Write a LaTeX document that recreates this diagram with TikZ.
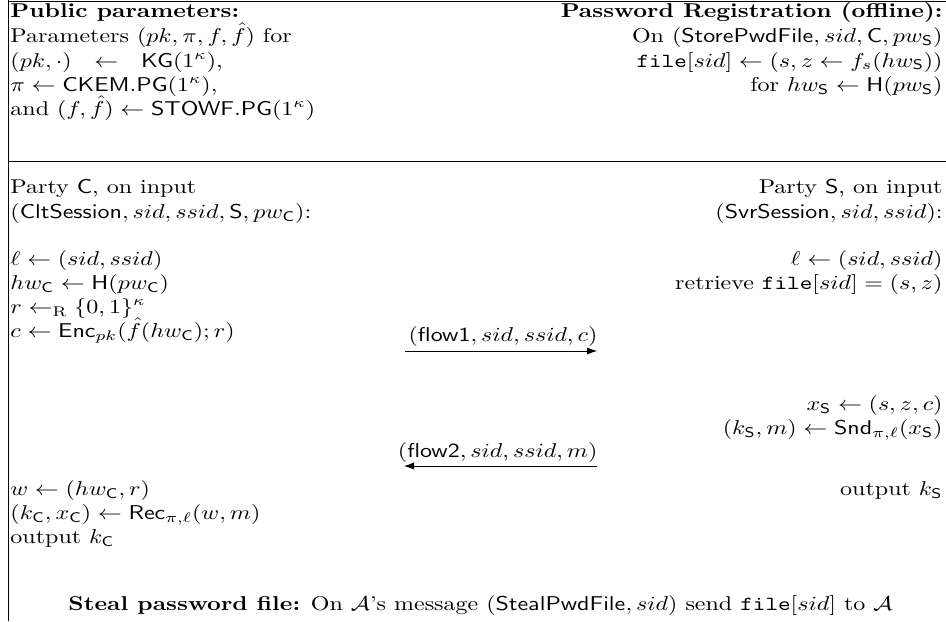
\documentclass[tikz,border=0pt]{standalone}
\usepackage{tikz}
\usetikzlibrary{arrows.meta}

\tikzset{
	txt/.style={inner sep=0pt, xscale=1.2},
	lft/.style={txt, anchor=base west},
	rgt/.style={txt, anchor=base east},
	msg/.style={-{Latex[length=5pt, width=3.6pt]}, line width=0.4pt}
}
\newcommand{\fC}{\mathsf{C}}
\newcommand{\fS}{\mathsf{S}}
\newcommand{\fhat}{\smash{\hat{f}}}

\begin{document}
\begin{tikzpicture}[x=0.5pt, y=-0.5pt]
		%%%%% START %%%%%
		\useasboundingbox (0, 0) rectangle (946, 621);
		
		\draw (8, 1) -- (946, 1);
		\draw (8, 161) -- (946, 161);
		\draw (8, 0) -- (8, 621);
		
		% public parameters
		\node[lft] (pubhead) at (10, 18) {\textbf{Public parameters:}};
		\node[lft] (pub1) at (10, 42) {Parameters $(pk,\pi,f,\fhat)$ for};
		\node[lft] (pub2) at (10, 67) {$(pk,\cdot)\ \ \leftarrow\ \ \mathsf{KG}(1^\kappa)$,};
		\node[lft] (pub3) at (10, 91) {$\pi\leftarrow\mathsf{CKEM.PG}(1^\kappa)$,};
		\node[lft] (pub4) at (10, 115) {and $(f,\fhat)\leftarrow\mathsf{STOWF.PG}(1^\kappa)$};
		
		% registration
		\node[rgt] (reghead) at (943, 18) {\textbf{Password Registration (offline):}};
		\node[rgt] (reg1) at (943, 42) {On $(\mathsf{StorePwdFile},sid,\fC,pw_{\fS})$};
		\node[rgt] (reg2) at (943, 67) {$\mathtt{file}[sid]\leftarrow(s,z\leftarrow f_s(hw_{\fS}))$};
		\node[rgt] (reg3) at (943, 91) {for $hw_{\fS}\leftarrow\mathsf{H}(pw_{\fS})$};
		
		% party C
		\node[lft] (clt0) at (10, 193) {Party $\fC$, on input};
		\node[lft] (clt1) at (10, 218) {$(\mathsf{CltSession},sid,ssid,\fS,pw_{\fC})$:};
		\node[lft] (clt2) at (10, 265) {$\ell\leftarrow(sid,ssid)$};
		\node[lft] (clt3) at (10, 289) {$hw_{\fC}\leftarrow\mathsf{H}(pw_{\fC})$};
		\node[lft] (clt4) at (10, 313) {$r\leftarrow_{\mathrm{R}}\{0,1\}^\kappa$};
		\node[lft] (clt5) at (10, 337) {$c\leftarrow\mathsf{Enc}_{pk}(\fhat(hw_{\fC});r)$};
		\node[lft] (clt6) at (10, 495) {$w\leftarrow(hw_{\fC},r)$};
		\node[lft] (clt7) at (10, 519) {$(k_{\fC},x_{\fC})\leftarrow\mathsf{Rec}_{\pi,\ell}(w,m)$};
		\node[lft] (clt8) at (10, 543) {output $k_{\fC}$};
		
		% party S
		\node[rgt] (svr0) at (943, 193) {Party $\fS$, on input};
		\node[rgt] (svr1) at (943, 218) {$(\mathsf{SvrSession},sid,ssid)$:};
		\node[rgt] (svr2) at (943, 265) {$\ell\leftarrow(sid,ssid)$};
		\node[rgt] (svr3) at (943, 289) {retrieve $\mathtt{file}[sid]=(s,z)$};
		\node[rgt] (svr4) at (943, 410) {$x_{\fS}\leftarrow(s,z,c)$};
		\node[rgt] (svr5) at (943, 434) {$(k_{\fS},m)\leftarrow\mathsf{Snd}_{\pi,\ell}(x_{\fS})$};
		\node[rgt] (svr6) at (943, 495) {output $k_{\fS}$};
		
		% flows
		\node[rgt] (flowone) at (598, 341) {$(\mathsf{flow1},sid,ssid,c)$};
		\coordinate (f1a) at (405, 351);
		\coordinate (f1b) at (597, 351);
		\draw[msg] (f1a) -- (f1b);
		
		\node[rgt] (flowtwo) at (598, 457) {$(\mathsf{flow2},sid,ssid,m)$};
		\coordinate (f2a) at (597, 466);
		\coordinate (f2b) at (404, 466);
		\draw[msg] (f2a) -- (f2b);
		
		\node[lft] (steal) at (68, 610) {\textbf{Steal password file:} On $\mathcal{A}$'s message $(\mathsf{StealPwdFile},sid)$ send $\mathtt{file}[sid]$ to $\mathcal{A}$};
		%%%%% END %%%%%
\end{tikzpicture}
\end{document}
